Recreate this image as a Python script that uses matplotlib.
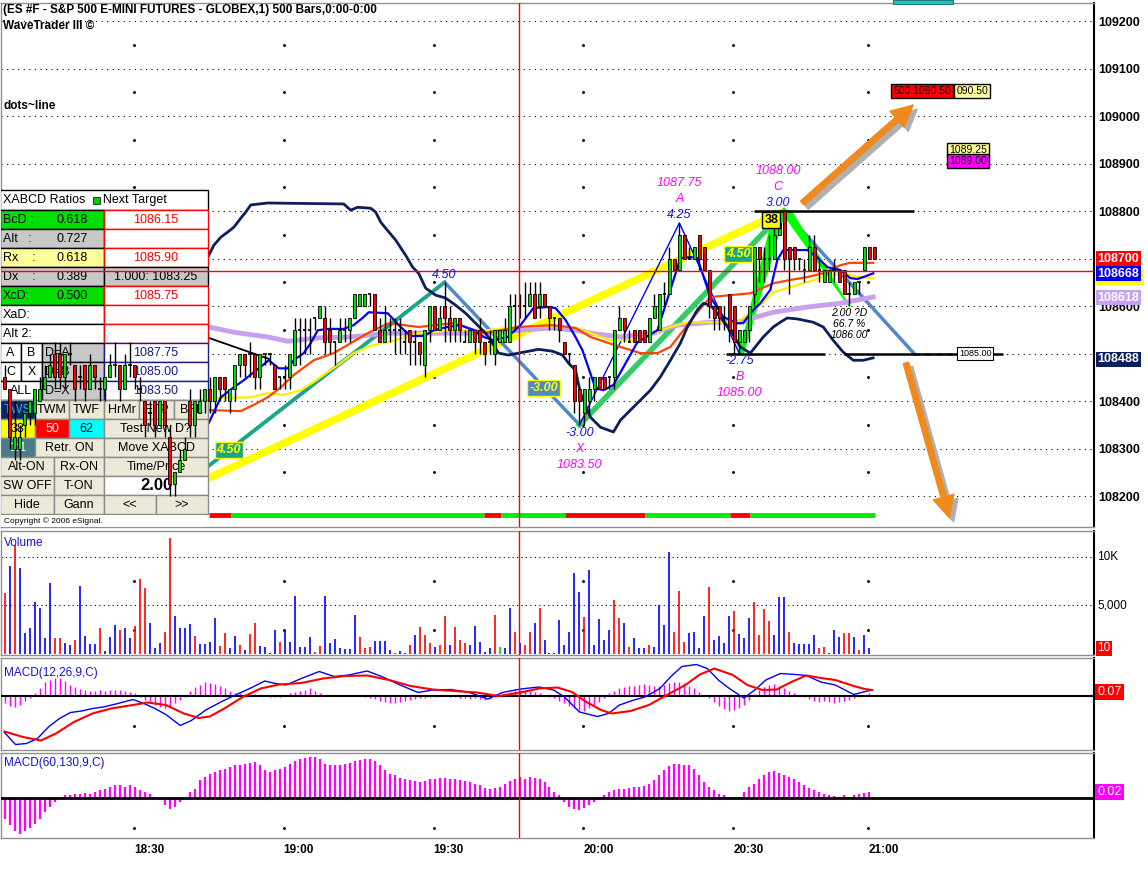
import matplotlib
matplotlib.use("Agg")
import matplotlib.pyplot as plt
import numpy as np
from matplotlib.patches import Rectangle, Polygon, FancyArrowPatch
from matplotlib.transforms import Affine2D, offset_copy

plt.rcParams['font.family'] = ['Liberation Sans', 'DejaVu Sans']

BASE = 1080.0
# 1-minute bars, prices relative to BASE
opens = [4.50,4.25,3.00,3.00,3.50,3.75,3.75,4.00,4.25,4.50,
         5.00,5.00,4.50,5.00,4.75,4.50,4.75,4.25,4.75,4.25,
         4.25,4.50,4.75,4.75,4.25,4.75,4.75,4.25,4.00,3.75,
         4.00,3.50,4.00,3.25,2.25,2.50,2.75,4.00,3.50,3.75,
         4.00,4.25,4.00,4.50,4.50,4.00,4.25,4.75,5.00,5.00,
         5.00,4.50,5.00,5.00,4.75,4.50,4.50,4.50,4.75,5.50,
         5.50,5.50,5.75,5.75,5.75,5.50,5.25,5.25,5.50,5.50,
         5.75,6.00,6.00,6.25,6.25,5.50,5.25,5.50,5.50,5.50,
         5.25,5.50,5.25,5.25,4.75,5.50,6.00,5.50,6.00,5.75,
         5.50,5.75,5.25,5.25,5.50,5.50,5.25,5.25,5.00,5.25,
         5.25,5.25,6.00,6.00,6.00,6.00,6.25,6.00,6.25,6.00,
         5.75,5.75,5.25,5.00,4.75,4.25,3.75,4.00,4.25,4.50,
         4.50,4.50,4.50,5.50,5.75,5.25,5.50,5.50,5.50,5.25,
         5.75,5.50,6.25,6.25,7.00,6.75,7.50,7.00,7.00,7.50,
         7.25,6.75,6.00,6.00,5.75,6.25,6.00,5.25,5.25,5.50,
         6.25,7.25,7.00,7.00,7.00,7.50,8.00,7.25,7.25,7.00,
         6.75,6.75,7.25,6.75,6.50,6.50,6.75,6.75,6.75,6.25,
         6.25,6.50,6.75,7.25,7.25]
closes = [4.25,3.25,3.25,3.25,3.75,4.00,4.25,4.25,4.50,4.75,
          4.50,4.50,5.00,5.00,4.25,4.50,4.25,4.75,4.50,4.25,
          4.50,4.75,4.75,4.25,4.75,4.75,4.50,4.25,3.50,3.75,
          3.50,4.00,3.50,2.25,2.50,2.75,3.00,3.50,4.00,4.00,
          4.25,4.00,4.50,4.25,4.25,4.25,4.75,5.00,4.75,5.00,
          4.50,5.00,5.00,5.00,4.25,4.50,4.50,5.00,5.50,5.50,
          5.50,5.50,5.75,6.00,5.25,5.25,5.25,5.50,5.50,5.75,
          6.25,6.25,6.25,6.25,5.50,5.25,5.50,5.50,5.50,5.50,
          5.25,5.25,5.25,5.00,5.50,6.00,5.50,5.75,5.75,5.50,
          5.75,5.50,5.25,5.50,5.25,5.25,5.00,5.25,5.50,5.50,
          5.50,6.00,6.00,6.00,6.00,6.25,5.75,6.25,6.00,5.75,
          5.75,5.50,5.00,5.00,4.00,4.00,4.25,4.25,4.50,4.25,
          4.25,4.50,5.50,5.75,5.50,5.25,5.25,5.25,5.25,5.75,
          6.00,6.25,6.25,7.00,6.75,7.50,7.00,7.00,7.25,7.00,
          6.75,6.00,5.75,5.75,5.75,5.50,5.25,5.50,5.50,6.00,
          7.25,7.00,7.00,7.00,7.50,7.75,7.00,7.00,7.00,7.00,
          6.75,7.25,6.75,6.75,6.75,6.75,6.75,6.50,6.25,6.25,
          6.50,6.50,7.25,7.00,7.00]
highs = [4.75,4.25,4.00,3.50,3.75,4.00,4.25,4.50,4.75,5.00,
         5.25,5.25,5.00,5.25,4.75,4.75,4.75,5.00,4.75,4.50,
         4.50,5.00,5.25,4.75,5.00,5.25,4.75,4.50,4.00,4.00,
         4.00,4.00,4.00,3.50,2.50,3.00,3.25,4.25,4.00,4.25,
         4.25,4.50,4.50,4.50,4.50,4.25,4.75,5.00,5.00,5.25,
         5.00,5.00,5.00,5.00,4.75,4.50,4.75,5.00,5.75,5.75,
         5.75,5.75,5.75,6.00,6.00,5.75,5.25,5.75,5.75,5.75,
         6.25,6.25,6.25,6.25,6.25,5.75,6.00,5.75,5.75,5.75,
         5.50,5.50,5.50,5.25,5.50,6.00,6.00,6.00,6.50,6.00,
         5.75,5.75,5.50,5.50,5.50,5.75,5.25,5.50,5.50,5.50,
         5.75,6.25,6.25,6.25,6.50,6.50,6.50,6.50,6.25,6.00,
         5.75,5.75,5.25,5.00,4.75,4.25,4.25,4.50,4.50,4.50,
         4.50,4.50,5.50,6.00,5.75,5.50,5.50,5.50,5.50,5.75,
         6.25,6.25,6.50,7.25,7.00,7.75,7.50,7.25,7.25,7.50,
         7.25,6.75,6.00,6.00,6.00,6.25,6.00,5.50,5.50,6.00,
         7.25,7.25,7.25,7.50,7.75,8.00,8.00,7.25,7.25,7.00,
         7.00,7.50,7.50,7.00,6.75,6.75,7.00,6.75,6.75,6.50,
         6.50,6.50,7.25,7.25,7.25]
lows = [4.25,3.00,2.75,2.75,3.25,3.50,3.50,4.00,4.25,4.50,
        4.25,4.25,4.25,4.75,4.00,4.25,4.00,4.25,4.25,4.00,
        4.00,4.50,4.50,4.00,4.25,4.50,4.25,4.00,3.25,3.50,
        3.25,3.50,3.25,2.00,2.00,2.50,2.75,3.25,3.25,3.75,
        3.75,3.75,3.75,4.00,4.00,3.75,4.00,4.50,4.50,4.50,
        4.25,4.25,4.75,4.75,4.25,4.25,4.25,4.25,4.75,4.75,
        5.00,5.00,5.50,5.75,5.00,5.00,4.75,5.25,5.25,5.25,
        5.75,6.00,6.00,6.00,5.50,5.25,5.25,5.25,5.00,5.00,
        5.00,4.75,4.75,4.75,4.50,5.25,5.50,5.50,5.25,5.25,
        5.25,5.25,5.25,5.25,5.00,5.00,4.75,5.00,4.75,5.25,
        5.25,5.25,5.50,5.75,5.75,6.00,5.75,5.75,6.00,5.50,
        5.50,5.25,5.00,4.75,3.75,3.50,3.50,3.75,4.00,4.25,
        4.25,4.25,4.25,5.50,5.25,5.25,5.25,5.25,5.25,5.25,
        5.75,5.50,6.00,6.25,6.75,6.75,7.00,7.00,7.00,6.75,
        6.75,5.75,5.50,5.50,5.50,5.25,5.00,5.00,5.25,5.25,
        6.00,6.50,6.50,6.75,7.00,7.50,6.75,6.25,6.75,6.75,
        6.50,6.75,6.75,6.50,6.50,6.50,6.50,6.50,6.25,6.00,
        6.25,6.25,6.75,7.00,7.00]

# moving averages: (bar, price)
blue_ma_x = [41.8,44.2,46.8,48.8,51.8,53.8,55.8,57.6,58.8,60.8,62.2,63.6,65.6,68.8,70.8,72.8,73.8,77.6,80.2,82.2,
             84.8,86.8,89.6,92.2,94.8,96.8,98.8,101.6,104.2,106.8,109.6,111.2,113.2,115.2,116.6,119.2,120.8,122.8,
             127.6,131.6,134.2,136.2,138.2,139.6,142.2,144.8,147.6,148.8,150.2,152.2,154.2,155.6,156.8,161.6,163.6,
             165.6,168.2,170.2,171.6,172.8,174.8]
blue_ma_y = [1083.54,1084.08,1084.29,1084.44,1084.69,1084.86,1084.69,1084.69,1084.86,1085.01,1085.22,1085.49,1085.52,
             1085.52,1085.60,1085.77,1085.87,1085.85,1085.56,1085.37,1085.37,1085.49,1085.56,1085.60,1085.49,1085.35,
             1085.28,1085.35,1085.60,1085.96,1085.98,1085.96,1085.71,1085.35,1085.07,1084.27,1084.23,1084.34,1085.24,
             1085.49,1086.34,1087.01,1087.03,1087.01,1086.19,1085.77,1085.64,1085.64,1085.85,1086.06,1086.34,1086.97,
             1087.18,1087.18,1087.03,1086.82,1086.76,1086.59,1086.57,1086.61,1086.69]
orange_ma_x = [41.8,48.2,50.8,53.6,56.2,58.8,62.8,66.8,70.2,73.6,76.2,77.8,83.8,90.6,97.2,103.8,110.6,115.2,118.2,
               124.2,128.2,131.6,134.2,136.8,139.6,142.2,146.2,150.2,154.8,158.2,161.6,164.8,168.2,170.2,174.8]
orange_ma_y = [1083.81,1083.79,1083.92,1084.08,1084.29,1084.55,1084.86,1085.01,1085.22,1085.43,1085.56,1085.64,
               1085.56,1085.64,1085.43,1085.56,1085.60,1085.54,1085.35,1085.14,1085.01,1085.01,1085.14,1085.49,
               1085.87,1086.19,1086.23,1086.27,1086.48,1086.55,1086.61,1086.69,1086.86,1086.91,1086.91]
yellow_ma_x = [41.8,50.2,53.6,56.8,60.2,62.8,65.6,68.2,70.8,73.6,76.2,77.8,83.8,90.6,97.2,103.8,111.8,115.2,118.2,
               122.2,126.2,130.8,134.2,137.6,147.6,152.2,154.8,158.8,164.2,168.2,172.2,174.8]
yellow_ma_y = [1084.06,1084.08,1084.17,1084.13,1084.23,1084.40,1084.61,1084.80,1085.01,1085.14,1085.22,1085.24,
               1085.43,1085.49,1085.49,1085.56,1085.58,1085.54,1085.43,1085.28,1085.28,1085.43,1085.56,1085.66,
               1085.66,1086.02,1086.29,1086.42,1086.59,1086.69,1086.61,1086.59]
lav_ma_x = [41.8,46.8,53.6,57.6,63.6,70.2,77.8,90.6,97.2,103.8,110.6,115.2,118.2,124.2,130.8,135.6,142.2,147.6,
            154.8,161.6,168.2,174.8]
lav_ma_y = [1085.56,1085.45,1085.35,1085.26,1085.33,1085.35,1085.43,1085.43,1085.43,1085.49,1085.54,1085.49,
            1085.43,1085.35,1085.43,1085.60,1085.66,1085.66,1085.87,1085.98,1086.06,1086.19]
navy_x = [41.8,42.8,44.2,45.6,46.8,48.2,49.2,50.2,53.6,68.8,70.2,71.6,74.2,75.2,76.2,77.2,79.2,81.2,82.6,83.8,85.2,
          87.2,89.2,91.2,93.2,95.2,97.2,98.6,99.8,101.8,103.8,105.8,107.8,110.6,112.6,113.8,115.2,116.2,118.2,120.2,
          122.8,124.2,126.2,128.2,130.2,132.2,134.2,136.2,137.6,139.6,140.8,142.2,144.2,146.2,148.2,150.2,152.8,
          154.8,156.2,157.6,159.6,162.8,164.8,166.8,168.8,170.8,172.8,174.8]
navy_y = [1087.07,1087.28,1087.45,1087.56,1087.66,1087.85,1087.98,1088.13,1088.17,1088.15,1088.02,1088.08,1088.06,
          1087.98,1087.77,1087.64,1087.39,1087.07,1086.82,1086.69,1086.38,1086.23,1086.17,1086.02,1085.85,1085.64,
          1085.43,1085.22,1085.01,1084.97,1085.01,1085.05,1085.09,1085.05,1084.97,1084.80,1084.65,1084.17,1083.66,
          1083.45,1083.35,1083.60,1083.81,1084.02,1084.23,1084.51,1084.86,1085.22,1085.56,1085.92,1086.06,1086.02,
          1085.77,1085.49,1085.14,1085.01,1085.35,1085.56,1085.66,1085.75,1085.73,1085.66,1085.56,1085.28,1085.03,
          1084.86,1084.86,1084.91]

# XABCD swing points
X = (116, 1083.50); A = (136, 1087.75); B = (148, 1085.00); C = (157, 1088.00); D = (170, 1086.00)
swing_low = (34, 1082.00); swing_high = (89, 1086.50)
proj_end = (183, 1085.00)

volumes = [6290,9030,11180,8790,2120,2630,5370,4750,1610,7320,1610,1610,1090,920,1440,6980,1850,1030,1030,2700,
           300,1780,2980,2460,2700,1610,2870,7700,6740,3210,580,1160,2290,11870,3900,2630,2630,3040,1850,1030,
           1030,1230,3730,820,2190,580,1850,920,410,2020,3210,820,750,140,2460,1270,2390,1230,5950,750,
           750,1710,240,820,5950,1090,1570,580,550,550,3970,1710,580,680,1330,1330,1330,410,100,340,
           100,920,1950,2800,1950,1090,750,920,3900,920,2800,1440,1090,920,2870,1270,240,580,3970,750,
           580,4750,2290,1090,920,2290,3150,4750,1440,140,100,3490,920,2290,8340,6400,3830,8620,920,3560,
           1440,2460,5540,3730,3210,750,1610,580,580,920,750,5030,2980,10500,2290,6460,1270,2190,2290,580,
           3900,6910,1440,1850,1160,3900,4410,2020,1610,3660,5370,1950,4650,3420,1950,5880,5880,2290,1090,1030,
           1030,1030,1950,580,680,100,2460,1780,2120,2120,1780,410,1950,580]
vol_colors = ("rbrbbbbbbbrrbbrbbbbrbbbrbbrrrbbbrrbbbbrbbbbrrbbrbrrbbbbrbbbbbbrrbbbbbbbrrrbbbbrbbrbrrrbrrbrrrbbbbbr"
              "gbbrbrrbrbbbbbbbbrbbbbbrrbrbbbrbbbbrrrbbbbrbbbbrbbbrrrrbbbrbbbbbrrbbbr")

macd_x = [0.9,3.1,5.3,7.5,9.7,11.9,14.1,16.3,18.5,20.7,23.6,26.6,28.8,31,33.2,36.1,38.3,41.2,44.2,47.1,50,53,55.1,
          57.3,60.3,63.9,66.9,69.8,73.5,76.4,80.1,83.7,86.6,90.3,94,97.6,100.6,104.2,107.9,110.8,113,116,119.6,
          121.8,124,126.9,129.1,132.1,134.3,136.5,139.4,141.6,143.8,146,148.9,151.1,153.3,156.2,159.2,161.4,164.3,
          167.2,170.9,172.8,174.6]
macd_y = [-0.74,-0.98,-0.96,-0.86,-0.63,-0.46,-0.34,-0.31,-0.26,-0.23,-0.16,-0.08,-0.16,-0.26,-0.38,-0.60,-0.50,
          -0.29,-0.13,0.01,0.14,0.29,0.24,0.21,0.34,0.48,0.38,0.41,0.49,0.38,0.21,0.06,0.11,0.12,0.06,-0.07,0.06,
          0.13,0.17,0.11,-0.03,-0.33,-0.42,-0.36,-0.19,-0.09,-0.03,0.14,0.38,0.58,0.62,0.54,0.31,0.14,-0.05,0.11,
          0.31,0.44,0.42,0.40,0.27,0.21,0.02,0.07,0.11]
signal_x = [0.9,4.6,8.2,11.2,14.8,18.5,22.2,26.6,29.5,33.2,36.8,39.8,42,44.9,48.6,52.2,55.9,60.3,64.7,69.1,73.5,
            77.9,82.2,86.6,91,95.4,99.8,104.2,107.9,111.6,114.5,117.4,120.3,122.5,126.2,129.9,133.5,137.2,140.1,
            143,146.7,149.6,152.6,155.5,158.4,161.4,164.3,167.2,170.9,173.1,174.6]
signal_y = [-0.72,-0.83,-0.90,-0.76,-0.53,-0.36,-0.26,-0.19,-0.14,-0.19,-0.36,-0.45,-0.42,-0.26,-0.03,0.14,0.22,
            0.25,0.34,0.39,0.40,0.31,0.19,0.12,0.09,0.06,-0.01,0.06,0.14,0.16,0.07,-0.13,-0.29,-0.36,-0.31,-0.19,
            0.01,0.21,0.42,0.54,0.41,0.21,0.11,0.12,0.27,0.40,0.35,0.31,0.19,0.13,0.11]
macd_hist = [-0.15,-0.2,-0.22,-0.18,-0.1,-0.05,
             0.05,0.15,0.28,0.32,0.35,0.36,0.3,0.22,0.18,
             0.14,0.12,0.1,
             0.1,0.11,0.1,0.12,0.11,0.12,0.1,0.08,0.05,
             -0.03,-0.08,-0.12,-0.18,-0.22,-0.25,-0.2,-0.15,-0.08,-0.02,
             0.1,0.18,0.22,0.27,0.26,0.24,0.2,0.15,0.1,0.06,
             0.05,0.04,0.04,0.03,0.02,0.01,-0.02,-0.02,-0.03,
             0.02,0.05,0.08,0.1,0.12,0.16,0.1,0.05,
             0.02,-0.01,0.0,0.01,0.02,0.01,0.02,0.0,-0.02,-0.04,
             -0.06,-0.1,-0.13,-0.15,-0.14,-0.12,-0.1,-0.08,-0.06,-0.05,-0.04,
             -0.03,-0.02,-0.01,0.01,-0.02,-0.03,-0.04,-0.05,-0.06,-0.05,-0.07,-0.08,-0.06,-0.02,0.01,
             0.04,0.08,0.1,0.12,0.12,0.1,0.08,0.06,0.02,-0.02,-0.05,
             -0.1,-0.15,-0.2,-0.25,-0.28,-0.3,-0.25,-0.2,-0.12,-0.05,
             0.05,0.1,0.15,0.18,0.2,0.2,0.22,0.24,0.22,0.2,0.2,0.22,0.25,0.28,0.28,
             0.25,0.2,0.15,0.08,0.02,-0.05,
             -0.12,-0.2,-0.26,-0.3,-0.28,-0.24,-0.18,-0.08,
             0.04,0.12,0.18,0.22,0.24,0.2,0.15,0.1,0.05,
             0.01,-0.03,-0.06,-0.1,-0.12,-0.1,-0.13,-0.15,-0.12,-0.1,-0.08,-0.05,-0.03,0.02,0.05]
macd2_hist = [-0.07,-0.09,
              -0.11,-0.12,-0.11,-0.10,-0.085,-0.07,-0.047,-0.03,-0.013,
              0.003,0.009,0.011,0.014,0.014,0.018,0.014,
              0.02,0.026,0.031,0.037,0.042,0.044,0.037,
              0.044,0.037,0.026,0.02,0.014,0.003,
              -0.008,-0.024,-0.036,-0.03,-0.013,-0.002,0.02,
              0.031,0.059,0.07,0.081,0.087,0.092,0.098,0.103,
              0.109,0.111,0.114,0.118,0.12,0.109,0.092,0.087,
              0.092,0.098,0.103,0.114,0.122,0.129,0.133,0.136,0.137,0.131,
              0.114,0.111,0.109,0.111,0.114,0.118,0.122,0.126,
              0.129,0.131,0.122,0.109,0.092,
              0.081,0.076,0.067,0.062,0.059,0.056,0.053,0.056,
              0.062,0.064,0.067,0.067,0.064,0.062,0.059,0.056,0.053,
              0.048,0.042,0.033,0.031,0.033,0.037,0.048,0.056,
              0.064,0.07,0.064,0.07,0.067,0.062,0.053,0.037,0.02,
              0.009,-0.013,-0.03,-0.038,-0.041,-0.033,-0.024,-0.013,
              0.0,0.009,0.02,0.026,0.031,0.031,0.033,0.037,
              0.037,0.04,0.048,0.059,0.076,0.092,0.107,0.114,0.114,0.109,
              0.111,0.098,0.076,0.053,0.037,0.026,0.014,
              0.009,0.0,-0.004,0.003,0.02,0.037,
              0.048,0.064,0.078,0.087,0.089,0.084,0.078,0.07,0.062,
              0.053,0.042,0.033,0.026,0.02,0.014,0.009,0.007,0.003,
              0.009,0.003,0.009,0.014,0.018,0.02]

time_ticks = [26.8, 56.8, 86.8, 116.8, 146.8, 173.8]
time_labels = ['18:30', '19:00', '19:30', '20:00', '20:30', '21:00']
strip_edges = [41.8, 46.2, 96.8, 100.2, 113.2, 129.2, 146.2, 150.2, 175.2]
strip_colors = ['red', '#00ee00', 'red', '#00ee00', 'red', '#00ee00', 'red', '#00ee00']
cursor_bar = 103.8
cursor_price = 1086.74

W, H = 1148, 872
fig = plt.figure(figsize=(W / 100, H / 100), dpi=100)
pxt = Affine2D().scale(1 / 100, -1 / 100).translate(0, H / 100) + fig.dpi_scale_trans


def rect(x0, y0, x1, y1):
    return [x0 / W, 1 - y1 / H, (x1 - x0) / W, (y1 - y0) / H]


ax = fig.add_axes(rect(1, 3, 1094, 527))
axv = fig.add_axes(rect(1, 531, 1094, 655), sharex=ax)
ax1 = fig.add_axes(rect(1, 658, 1094, 750), sharex=ax)
ax2 = fig.add_axes(rect(1, 753, 1094, 838), sharex=ax)

for a in (ax, axv, ax1, ax2):
    for s in ('top', 'bottom', 'left'):
        a.spines[s].set_color('#909090')
        a.spines[s].set_linewidth(1)
    a.spines['right'].set_color('black')
    a.spines['right'].set_linewidth(1.5)
    a.tick_params(length=0, labelbottom=False, labelleft=False)
    a.axvline(cursor_bar, color='red', lw=1, zorder=9)

ax.set_xlim(0.2, 219)
bars = np.arange(1, len(closes) + 1)
o = np.array(opens) + BASE
c = np.array(closes) + BASE
hi = np.array(highs) + BASE
lo = np.array(lows) + BASE

# ---- main price panel
ax.set_ylim(1081.35, 1092.38)
ax.yaxis.tick_right()
price_ticks = [p for p in range(1082, 1093) if p != 1085]  # 108500 sits under the 108488 box
ax.set_yticks(price_ticks)
ax.set_yticklabels([str(p * 100) for p in price_ticks], fontsize=9, fontweight='bold')
ax.tick_params(axis='y', labelright=True, pad=3)
for p in range(1082, 1093):
    ax.axhline(p, color='black', lw=0.8, ls=(0, (1, 4)), zorder=1)
for t in time_ticks:
    ax.scatter([t] * 10, np.arange(1082.5, 1092, 1.0), s=1.2, color='black', zorder=1)
ax.axhline(cursor_price, color='red', lw=1, zorder=9)

ax.plot([swing_low[0], C[0]], [swing_low[1], C[1]], color='#ffff00', lw=5.5, solid_capstyle='butt', zorder=2)
ax.plot([swing_low[0], swing_high[0]], [swing_low[1], swing_high[1]], color='#1aa58a', lw=2.8, zorder=2)
ax.plot([swing_high[0], X[0]], [swing_high[1], X[1]], color='#5088c8', lw=2.5, zorder=2)
ax.plot([C[0], proj_end[0]], [C[1], proj_end[1]], color='#5088c8', lw=2.5, zorder=2)
ax.plot([proj_end[0], 196], [proj_end[1], proj_end[1]], color='#5088c8', lw=2, ls=(0, (2, 2)), zorder=2)
ax.plot([X[0], C[0]], [X[1], C[1]], color='#33cc66', lw=4, zorder=2)
ax.add_patch(Polygon([(B[0], B[1]), (B[0] + 0.8, B[1]), (C[0] + 0.2, C[1]), (C[0] - 2, C[1])],
                     closed=True, color='#00ff00', zorder=2.5))
ax.add_patch(Polygon([(C[0] - 0.6, C[1]), (C[0] + 1.4, C[1]), (D[0], D[1])],
                     closed=True, color='#00ff00', zorder=2.5))
ax.plot([X[0], A[0], B[0]], [X[1], A[1], B[1]], color='#0000ff', lw=1, zorder=3)

ax.plot(lav_ma_x, lav_ma_y, color='#c8a0f0', lw=3.5, zorder=3)
ax.plot(yellow_ma_x, yellow_ma_y, color='#ffee00', lw=1.6, zorder=3)
ax.plot(orange_ma_x, orange_ma_y, color='#ff4400', lw=1.6, zorder=3)
ax.plot(blue_ma_x, blue_ma_y, color='#0000ff', lw=1.6, zorder=3)
ax.plot(navy_x, navy_y, color='#0a1f5c', lw=2, zorder=3)
ax.plot([41.8, 53.8], [1085.33, 1084.89], color='black', lw=1.3, zorder=3)

ax.hlines(C[1], 151, proj_end[0], color='black', lw=1.8, zorder=3)
ax.hlines(B[1], 145.4, 165.2, color='black', lw=1.8, zorder=3)
ax.hlines(B[1], 169, 200.8, color='black', lw=1.8, zorder=3)

for k in range(len(strip_colors)):
    ax.hlines(1081.61, strip_edges[k], strip_edges[k + 1], color=strip_colors[k], lw=3.5, zorder=3)

# candles
ax.vlines(bars, lo, hi, color='black', lw=1, zorder=7.9)
up = c > o
dn = c < o
ax.bar(bars[up], (c - o)[up], bottom=o[up], width=0.6, color='#00dd00', edgecolor='black', lw=0.6, zorder=8)
ax.bar(bars[dn], (o - c)[dn], bottom=c[dn], width=0.6, color='#ff0000', edgecolor='black', lw=0.6, zorder=8)
eq = c == o
ax.hlines(c[eq], bars[eq] - 0.35, bars[eq] + 0.35, color='black', lw=1.2, zorder=8)

# pattern labels
mag = '#ff00ff'
blu = '#1010e0'
for (bx, txt, col, yy) in [(A[0], '1087.75', mag, 1088.59), (A[0], 'A', mag, 1088.25), (A[0], '4.25', blu, 1087.92),
                           (C[0] - 1.2, '1088.00', mag, 1088.84), (C[0] - 1.2, 'C', mag, 1088.51),
                           (C[0] - 1.2, '3.00', blu, 1088.17),
                           (X[0], '-3.00', blu, 1083.33), (X[0], 'X', mag, 1082.99), (X[0], '1083.50', mag, 1082.65),
                           (B[0], '-2.75', blu, 1084.84), (B[0], 'B', mag, 1084.51), (B[0], '1085.00', mag, 1084.17),
                           (swing_high[0], '4.50', blu, 1086.65)]:
    ax.text(bx, yy, txt, color=col, style='italic', ha='center', va='center', fontsize=9, zorder=10)
for yy, txt in [(1085.85, '2.00 ?D'), (1085.62, '66.7 %'), (1085.39, '1086.00')]:
    ax.text(D[0], yy, txt, color='black', style='italic', ha='center', va='center', fontsize=7.5, zorder=10)

box = dict(boxstyle='square,pad=0.15', lw=1)
ax.text(45.8, 1082.97, '4.50', color='#ffff00', style='italic', fontweight='bold', fontsize=9, ha='center',
        va='center', bbox=dict(box, fc='#1aa58a', ec='#ffff00'), zorder=10)
ax.text(108.8, 1084.27, '-3.00', color='#ffff00', style='italic', fontweight='bold', fontsize=9, ha='center',
        va='center', bbox=dict(box, fc='#5088c8', ec='#ffff00'), zorder=10)
ax.text(147.8, 1087.09, '4.50', color='#ffff00', style='italic', fontweight='bold', fontsize=9, ha='center',
        va='center', bbox=dict(box, fc='#1aa58a', ec='#ffff00'), zorder=10)
ax.text(154.4, 1087.81, '38', color='black', fontweight='bold', fontsize=9, ha='center', va='center',
        bbox=dict(box, fc='#ffff00', ec='black'), zorder=10)
ax.text(195.2, 1085.0, '1085.00', color='black', fontsize=6.5, ha='center', va='center',
        bbox=dict(boxstyle='square,pad=0.2', fc='white', ec='black', lw=0.8), zorder=10)

# targets
ax.text(178.8, 1090.52, '500:1090.50', color='black', fontsize=7.5, ha='left', va='center',
        bbox=dict(boxstyle='square,pad=0.2', fc='#ff0000', ec='black', lw=1), zorder=10)
ax.text(191.4, 1090.52, '090.50', color='black', fontsize=7.5, ha='left', va='center',
        bbox=dict(boxstyle='square,pad=0.2', fc='#ffff99', ec='black', lw=1), zorder=10)
ax.text(190, 1089.28, '1089.25', color='black', fontsize=7.5, ha='left', va='center',
        bbox=dict(boxstyle='square,pad=0.2', fc='#ffff99', ec='black', lw=1), zorder=10)
ax.text(190, 1089.05, '1089.00', color='black', fontsize=7.5, ha='left', va='center',
        bbox=dict(boxstyle='square,pad=0.2', fc='#ff00ff', ec='black', lw=1), zorder=10)

# arrows with shadow
shadow = offset_copy(ax.transData, fig=fig, x=3, y=-3, units='points')
for (p0, p1) in [((160.2, 1088.13), (183.2, 1090.27)), ((181.2, 1084.86), (190.2, 1081.49))]:
    for tr, col in [(shadow, '#b0b0b0'), (ax.transData, '#f08a1c')]:
        ax.add_patch(FancyArrowPatch(p0, p1, transform=tr, color=col, zorder=10,
                                     arrowstyle='simple,head_length=1.1,head_width=1.1,tail_width=0.28',
                                     mutation_scale=14))

# right-hand value boxes
ytr = ax.get_yaxis_transform()
ax.add_patch(Rectangle((1.001, 1086.45), 0.045, 0.3, transform=ytr, fc='#ffff00', ec='none', zorder=11,
                       clip_on=False))
for yy, txt, fc in [(1087.0, '108700', '#ff0000'), (1086.68, '108668', '#0000ee'),
                    (1086.18, '108618', '#c8a0f0'), (1084.88, '108488', '#0a1f5c')]:
    ax.text(1.003, yy, txt, transform=ytr, color='white', fontsize=9, fontweight='bold', ha='left', va='center',
            bbox=dict(boxstyle='square,pad=0.12', fc=fc, ec='none'), zorder=12, clip_on=False)

# ---- volume
axv.set_ylim(-103, 12628)
cmap = {'r': '#ff0000', 'b': '#0000ff', 'g': '#00cc00'}
vx = np.arange(1, len(volumes) + 1)
axv.vlines(vx, 0, volumes, colors=[cmap[ch] for ch in vol_colors[:len(volumes)]], lw=1.2, zorder=3)
for v in (5000, 10000):
    axv.axhline(v, color='black', lw=0.8, ls=(0, (1, 3)), zorder=1)
for t in time_ticks:
    axv.scatter([t, t], [2500, 7500], s=1.2, color='black', zorder=1)
axv.text(0.003, 0.9, 'Volume', transform=axv.transAxes, color='#1010e0', fontsize=8.5, va='center')
ytrv = axv.get_yaxis_transform()
axv.text(1.003, 10000, '10K', transform=ytrv, fontsize=8.5, va='center', clip_on=False)
axv.text(1.003, 5000, '5,000', transform=ytrv, fontsize=8.5, va='center', clip_on=False)
axv.text(1.003, 580, '10', transform=ytrv, fontsize=8.5, va='center', color='white', clip_on=False,
         bbox=dict(boxstyle='square,pad=0.1', fc='#ff0000', ec='none'))

# ---- MACD 12,26,9
ax1.set_ylim(-1.09, 0.75)
hx = np.arange(1, len(macd_hist) + 1)
ax1.vlines(hx, 0, macd_hist, color='#ff00ff', lw=1, zorder=2)
ax1.axhline(0, color='black', lw=1.5, zorder=3)
ax1.plot(macd_x, macd_y, color='#0000ff', lw=1, zorder=4)
ax1.plot(signal_x, signal_y, color='#ff0000', lw=1.5, zorder=4)
for t in time_ticks:
    ax1.scatter([t], [-0.6], s=1.2, color='black', zorder=1)
ax1.text(0.003, 0.84, 'MACD(12,26,9,C)', transform=ax1.transAxes, color='#1010e0', fontsize=8.5, va='center')
ax1.text(1.003, 0.07, '0.07', transform=ax1.get_yaxis_transform(), fontsize=9, va='center', color='white',
         clip_on=False, bbox=dict(boxstyle='square,pad=0.15', fc='#ff0000', ec='none'))

# ---- MACD 60,130,9
ax2.set_ylim(-0.133, 0.15)
hx2 = np.arange(1, len(macd2_hist) + 1)
ax2.vlines(hx2, 0, macd2_hist, color='#ff00ff', lw=1.6, zorder=2)
ax2.axhline(0, color='black', lw=2, zorder=3)
for t in time_ticks:
    ax2.scatter([t], [-0.1], s=1.2, color='black', zorder=1)
ax2.text(0.003, 0.88, 'MACD(60,130,9,C)', transform=ax2.transAxes, color='#1010e0', fontsize=8.5, va='center')
ax2.text(1.003, 0.02, '0.02', transform=ax2.get_yaxis_transform(), fontsize=9, va='center', color='white',
         clip_on=False, bbox=dict(boxstyle='square,pad=0.15', fc='#ff00ff', ec='none'))
ax2.set_xticks(time_ticks)
ax2.set_xticklabels(time_labels, ha='left', fontsize=8.5, fontweight='bold')
ax2.tick_params(axis='x', labelbottom=True, pad=4)

# ---- header text
fig.text(3 / W, 1 - 10 / H, '(ES #F - S&P 500 E-MINI FUTURES - GLOBEX,1) 500 Bars,0:00-0:00', fontsize=8.5,
         fontweight='bold', va='center')
fig.text(3 / W, 1 - 26 / H, 'WaveTrader III \u00a9', fontsize=8.5, fontweight='bold', va='center')
fig.text(3 / W, 1 - 106 / H, 'dots~line', fontsize=8.5, fontweight='bold', va='center')
ax.add_patch(Rectangle((893, 0), 60, 4, transform=pxt, fc='#20c0c0', ec='#208080', lw=0.8, zorder=12,
                       clip_on=False))

# ---- XABCD ratio panel (pixel layout)
def cell(x0, y0, x1, y1, txt='', bg='white', fg='black', ec='black', ha='center', size=8.5, bold=False, tx=None):
    ax.add_patch(Rectangle((x0, y0), x1 - x0, y1 - y0, transform=pxt, fc=bg, ec=ec, lw=1, zorder=6))
    if txt:
        xx = tx if tx is not None else ((x0 + x1) / 2 if ha == 'center' else x0 + 3)
        ax.text(xx, (y0 + y1) / 2 + 0.5, txt, transform=pxt, color=fg, ha=ha, va='center', fontsize=size,
                fontweight='bold' if bold else 'normal', zorder=6.5)


ratio_rows = [('BcD :', '0.618', '#00e000', '1086.15', 'red', 'white'),
              ('Alt   :', '0.727', '#c8c8c8', '', 'red', 'white'),
              ('Rx    :', '0.618', '#ffff9a', '1085.90', 'red', 'white'),
              ('Dx    :', '0.389', '#c8c8c8', '1.000: 1083.25', 'black', '#c8c8c8'),
              ('XcD:', '0.500', '#00e000', '1085.75', 'red', 'white'),
              ('XaD:', '', 'white', '', 'red', 'white'),
              ('Alt 2:', '', 'white', '', 'red', 'white')]
cell(0, 190, 208, 210, 'XABCD Ratios     Next Target', ha='left', size=9)
ax.add_patch(Rectangle((93, 197), 7, 7, transform=pxt, fc='#00cc00', ec='black', lw=0.5, zorder=6.5))
y0 = 210
for lab, val, bg, tgt, tc, tbg in ratio_rows:
    cell(0, y0, 104, y0 + 19, lab, bg=bg, ha='left', size=9)
    if val:
        ax.text(72, y0 + 10, val, transform=pxt, ha='center', va='center', fontsize=9, zorder=6.5)
    cell(104, y0, 208, y0 + 19, tgt, bg=tbg, fg=tc, ec='red' if tc == 'red' else 'black', size=9)
    y0 += 19
for (l1, l2, l3, tgt) in [('A', 'B', 'D=A', '1087.75'), ('C', 'X', 'D=B', '1085.00'), ('ALL', None, 'D=X', '1083.50')]:
    if l2 is None:
        cell(0, y0, 42, y0 + 19, l1, size=9)
    else:
        cell(0, y0, 21, y0 + 19, l1, size=9)
        cell(21, y0, 42, y0 + 19, l2, size=9)
    cell(42, y0, 104, y0 + 19, l3, bg='#c8c8c8', ha='left', size=9)
    cell(104, y0, 208, y0 + 19, tgt, fg='#1a1a8a', ec='#1a1a8a', size=9)
    y0 += 19
beige = '#ece9d8'
btn_rows = [[(0, 35, 'TWS', '#0a246a', '#40b0b0'), (35, 69, 'TWM', beige, 'black'), (69, 104, 'TWF', beige, 'black'),
             (104, 139, 'HrMr', beige, 'black'), (139, 174, 'FTP', beige, 'black'), (174, 208, 'BFL', beige, 'black')],
            [(0, 35, '38', '#ffff00', 'black'), (35, 69, '50', '#ff0000', 'white'), (69, 104, '62', '#00ffff', 'black'),
             (104, 208, 'Test New D?', beige, 'black')],
            [(0, 35, '1:1', '#4a7c88', 'white'), (35, 104, 'Retr. ON', beige, 'black'),
             (104, 208, 'Move XABCD', beige, 'black')],
            [(0, 54, 'Alt-ON', beige, 'black'), (54, 104, 'Rx-ON', beige, 'black'),
             (104, 208, 'Time/Price', beige, 'black')],
            [(0, 54, 'SW OFF', beige, 'black'), (54, 104, 'T-ON', beige, 'black'), (104, 208, '', 'white', 'black')],
            [(0, 54, 'Hide', beige, 'black'), (54, 104, 'Gann', beige, 'black'), (104, 156, '<<', beige, 'black'),
             (156, 208, '>>', beige, 'black')]]
for row in btn_rows:
    for (xa, xb, txt, bg, fg) in row:
        cell(xa, y0, xb, y0 + 19, txt, bg=bg, fg=fg, ec='#8a8a8a', size=9)
    y0 += 19
ax.text(156, 486, '2.00', transform=pxt, ha='center', va='center', fontsize=12, fontweight='bold', zorder=6.5)
ax.add_patch(Rectangle((0, 515), 205, 12, transform=pxt, fc='white', ec='none', zorder=8.5))
ax.text(4, 521, 'Copyright \u00a9 2006 eSignal.', transform=pxt, fontsize=6, va='center', zorder=8.6)

fig.savefig('out.png', dpi=100)
